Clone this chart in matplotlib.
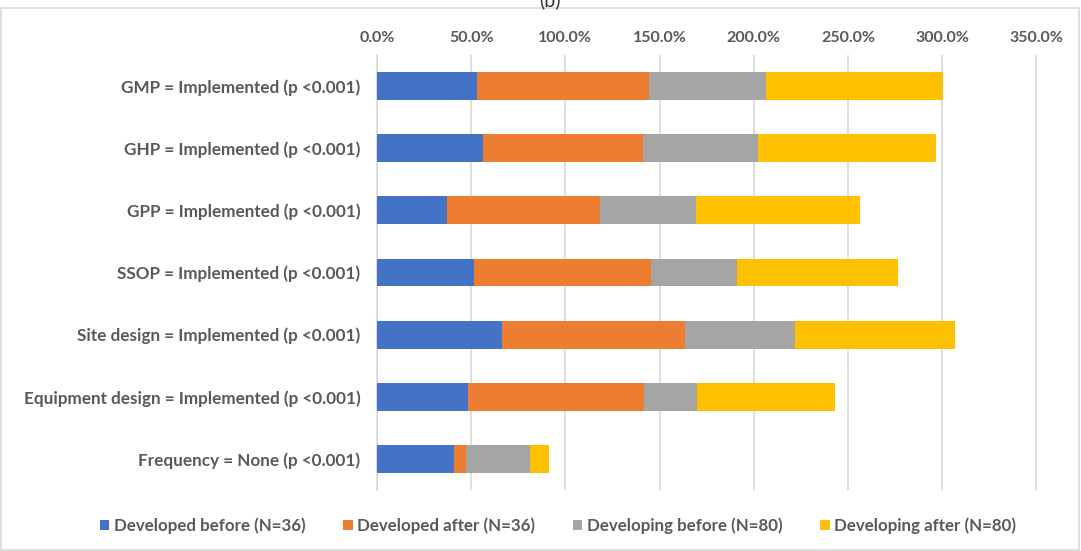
import numpy as np
import matplotlib.pyplot as plt
from matplotlib.patches import Rectangle

plt.rcParams['font.family'] = ['Lato', 'DejaVu Sans']

categories = [
    "GMP = Implemented (p <0.001)",
    "GHP = Implemented (p <0.001)",
    "GPP = Implemented (p <0.001)",
    "SSOP = Implemented (p <0.001)",
    "Site design = Implemented (p <0.001)",
    "Equipment design = Implemented (p <0.001)",
    "Frequency = None (p <0.001)",
]
developed_before = [53.0, 56.3, 37.4, 51.4, 66.6, 48.4, 40.9]
developed_after = [91.3, 85.0, 81.2, 93.9, 97.0, 93.3, 6.3]
developing_before = [62.1, 60.9, 50.8, 45.7, 58.3, 28.1, 34.0]
developing_after = [94.1, 94.7, 86.8, 85.8, 85.2, 73.5, 10.3]

series_names = ["Developed before (N=36)", "Developed after (N=36)",
                "Developing before (N=80)", "Developing after (N=80)"]
colors = ["#4472C4", "#ED7D31", "#A5A5A5", "#FFC000"]
series = [developed_before, developed_after, developing_before, developing_after]

fig = plt.figure(figsize=(10.81, 5.51), dpi=100)
ax = fig.add_axes([377 / 1081, 1 - 490 / 551, (1040 - 377) / 1081, (490 - 55) / 551])

# outer chart border
fig.patches.append(Rectangle((1 / 1081, 0.002), 1078 / 1081, 1 - 9 / 551, transform=fig.transFigure,
                             fill=False, edgecolor="#D9D9D9", linewidth=1.2))
fig.text(550 / 1081, 1.0, "(b)", ha="center", va="center", fontsize=14, color="#333333")

y = np.arange(len(categories))
left = np.zeros(len(categories))
for name, vals, c in zip(series_names, series, colors):
    vals = np.array(vals)
    ax.barh(y, vals, left=left, height=0.45, color=c, label=name, zorder=3)
    left += vals

ax.set_xlim(0, 352)
ax.set_ylim(len(categories) - 0.5, -0.5)
ticks = np.arange(0, 351, 50)
ax.set_xticks(ticks)
ax.set_xticklabels([f"{t:.1f}%" for t in ticks])
ax.xaxis.tick_top()
ax.set_yticks(y)
ax.set_yticklabels(categories)
ax.tick_params(axis="both", length=0, colors="#595959")
ax.tick_params(axis="x", pad=7, labelsize=11.5)
ax.tick_params(axis="y", pad=12, labelsize=12.3)
for lbl in ax.get_xticklabels() + ax.get_yticklabels():
    lbl.set_fontweight("bold")
ax.grid(axis="x", color="#D9D9D9", linewidth=1.2, zorder=0)
for s in ["top", "right", "bottom"]:
    ax.spines[s].set_visible(False)
ax.spines["left"].set_color("#D9D9D9")
ax.spines["left"].set_linewidth(1.2)

handles, labels = ax.get_legend_handles_labels()
leg = fig.legend(handles, labels, loc="center", bbox_to_anchor=(558 / 1081, 1 - 526 / 551), ncol=4,
                 frameon=False, handlelength=0.55, handleheight=0.55, columnspacing=2.25, handletextpad=0.25,
                 prop={"size": 12.2, "weight": "bold"})
for t in leg.get_texts():
    t.set_color("#595959")

fig.savefig("out.png", dpi=100)
